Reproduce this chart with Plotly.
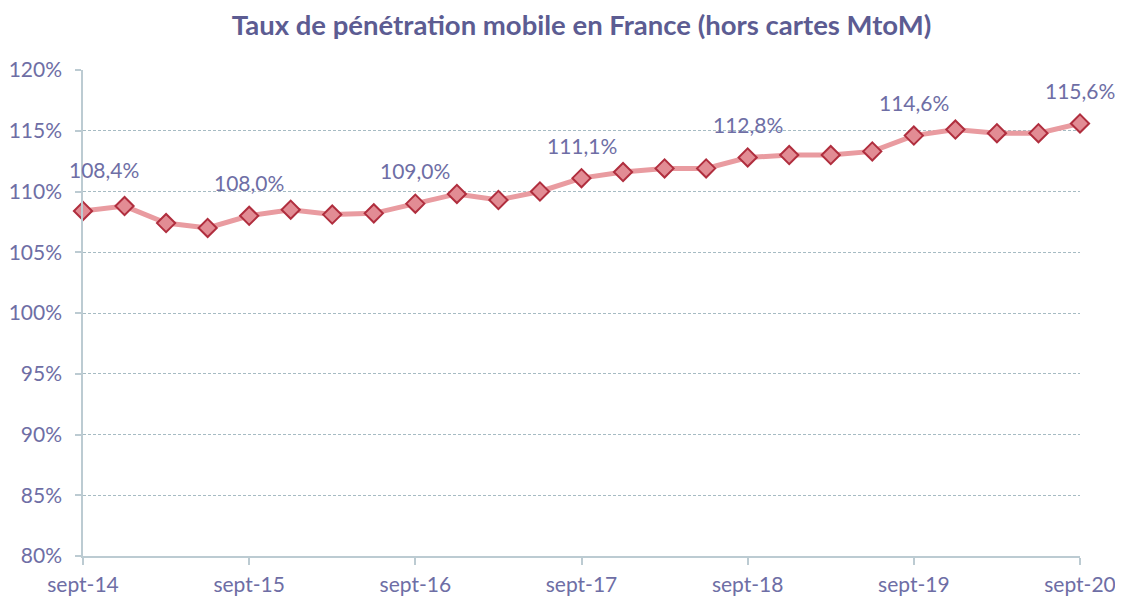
import plotly.graph_objects as go

quarters = [
    "sept-14", "déc-14", "mars-15", "juin-15",
    "sept-15", "déc-15", "mars-16", "juin-16",
    "sept-16", "déc-16", "mars-17", "juin-17",
    "sept-17", "déc-17", "mars-18", "juin-18",
    "sept-18", "déc-18", "mars-19", "juin-19",
    "sept-19", "déc-19", "mars-20", "juin-20",
    "sept-20",
]
penetration = [
    108.4, 108.8, 107.4, 107.0,
    108.0, 108.5, 108.1, 108.2,
    109.0, 109.8, 109.3, 110.0,
    111.1, 111.6, 111.9, 111.9,
    112.8, 113.0, 113.0, 113.3,
    114.6, 115.1, 114.8, 114.8,
    115.6,
]
year_ticks = ["sept-14", "sept-15", "sept-16", "sept-17", "sept-18", "sept-19", "sept-20"]
y_ticks = [80, 85, 90, 95, 100, 105, 110, 115, 120]

TEXT = "#6E6EA5"
TITLE = "#5C5C92"
GRID = "#A6BBC3"
AXIS = "#BCCBD2"
FONT = "Lato"

fig = go.Figure()
fig.add_trace(go.Scatter(
    x=quarters, y=penetration, mode="lines+markers",
    line=dict(color="#E99BA0", width=5),
    marker=dict(symbol="diamond", size=14, color="#E28C94",
                line=dict(color="#B02E3E", width=2)),
    cliponaxis=False, showlegend=False,
    hovertemplate="%{x}: %{y:.1f}%<extra></extra>",
))

for i, (q, v) in enumerate(zip(quarters, penetration)):
    if q in year_ticks:
        fig.add_annotation(
            x=q, y=v, text=f"{v:.1f}%".replace(".", ","),
            showarrow=False, yanchor="middle",
            yshift=41 if i == 0 else 33, xshift=21 if i == 0 else 0,
            font=dict(family=FONT, size=21, color=TEXT),
        )

fig.update_layout(
    width=1115, height=589,
    margin=dict(l=75, r=43, t=62, b=41, autoexpand=False),
    paper_bgcolor="white", plot_bgcolor="white",
    separators=",.",
    title=dict(text="<b>Taux de pénétration mobile en France (hors cartes MtoM)</b>",
               x=0.5, xanchor="center", xref="paper",
               yref="container", y=0.971, yanchor="middle",
               font=dict(family=FONT, size=27.5, color=TITLE)),
    font=dict(family=FONT, size=21, color=TEXT),
)
fig.update_xaxes(
    type="category", categoryorder="array", categoryarray=quarters,
    range=[0, len(quarters) - 1], automargin=False,
    tickmode="array", tickvals=year_ticks, ticktext=year_ticks,
    ticks="outside", ticklen=7, tickcolor=AXIS, tickwidth=1.5,
    ticklabelstandoff=2,
    showline=True, linecolor=AXIS, linewidth=1.5,
    showgrid=False, zeroline=False,
    tickfont=dict(family=FONT, size=21, color=TEXT),
)
fig.update_yaxes(
    range=[80, 120], automargin=False,
    tickmode="array", tickvals=y_ticks,
    ticktext=[f"{t}%" for t in y_ticks],
    ticks="outside", ticklen=6, tickcolor=AXIS, tickwidth=1.5,
    ticklabelstandoff=9,
    showline=True, linecolor=AXIS, linewidth=1.5,
    showgrid=True, gridcolor=GRID, griddash="3px,2px", gridwidth=1,
    zeroline=False,
    tickfont=dict(family=FONT, size=21, color=TEXT),
)

fig.write_html("out.html")
